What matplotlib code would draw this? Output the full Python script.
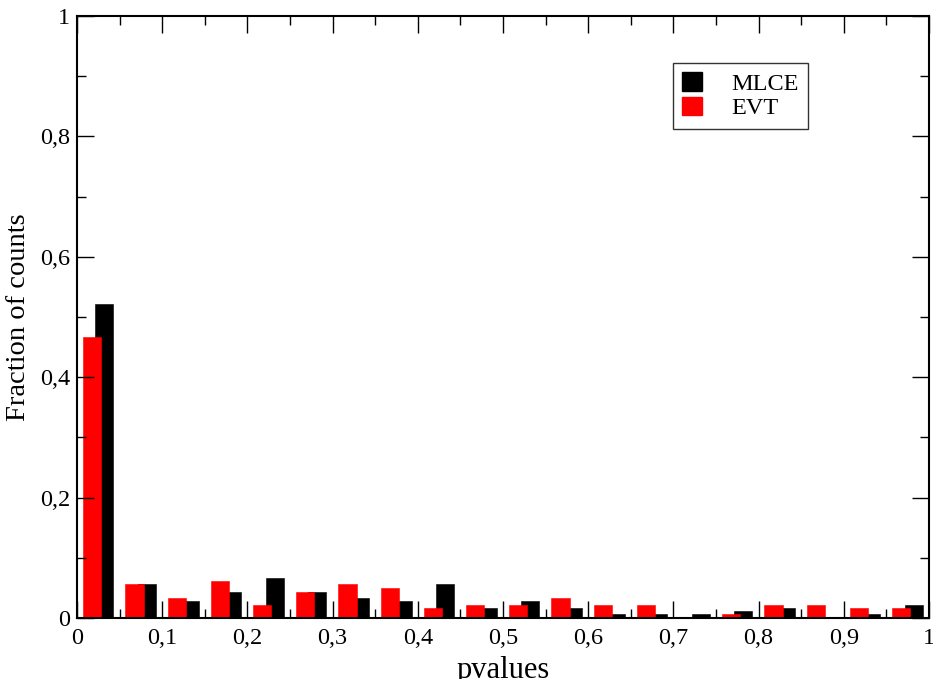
import numpy as np
import matplotlib
matplotlib.use('Agg')
import matplotlib.pyplot as plt
from matplotlib.ticker import MultipleLocator, FuncFormatter
from matplotlib.patches import Patch

# Histogram of p-values, 20 bins of width 0.05
bin_edges = np.linspace(0.0, 1.0, 21)
bin_centers = 0.5 * (bin_edges[:-1] + bin_edges[1:])

evt_frac = [0.467, 0.056, 0.033, 0.061, 0.022, 0.044, 0.056, 0.050, 0.017, 0.022,
            0.022, 0.033, 0.022, 0.022, 0.000, 0.006, 0.022, 0.022, 0.017, 0.017]
mlce_frac = [0.522, 0.056, 0.028, 0.044, 0.067, 0.044, 0.033, 0.028, 0.056, 0.017,
             0.028, 0.017, 0.006, 0.006, 0.006, 0.011, 0.017, 0.000, 0.006, 0.022]

plt.rcParams['font.family'] = ['Liberation Serif', 'DejaVu Serif']

fig = plt.figure(figsize=(9.33, 6.79), dpi=100)
ax = fig.add_axes([0.0825, 0.0898, 0.9132, 0.8866])

bar_w = 0.0214
ax.bar(bin_centers + 0.0070, mlce_frac, width=bar_w, color='black',
       edgecolor='black', linewidth=0.4, zorder=1, label='MLCE')
ax.bar(bin_centers - 0.0075, evt_frac, width=bar_w, color='#ff0000',
       edgecolor='#ff0000', linewidth=0.4, zorder=1.1, label='EVT')

ax.set_xlim(0, 1)
ax.set_ylim(0, 1)

comma = FuncFormatter(lambda v, pos: ('%g' % round(v, 3)).replace('.', ','))
ax.xaxis.set_major_locator(MultipleLocator(0.1))
ax.xaxis.set_minor_locator(MultipleLocator(0.05))
ax.yaxis.set_major_locator(MultipleLocator(0.2))
ax.yaxis.set_minor_locator(MultipleLocator(0.1))
ax.xaxis.set_major_formatter(comma)
ax.yaxis.set_major_formatter(comma)

ax.tick_params(which='both', direction='in', top=True, right=True,
               labelsize=17.5, width=1.0, colors='black')
ax.tick_params(which='major', length=12)
ax.tick_params(which='minor', length=6.5)
ax.tick_params(axis='x', pad=7)
ax.tick_params(axis='y', pad=5)
for sp in ax.spines.values():
    sp.set_linewidth(1.5)

ax.set_xlabel('pvalues', fontsize=22, labelpad=5)
ax.set_ylabel('Fraction of counts', fontsize=20.5, labelpad=6)

handles = [Patch(facecolor='black', edgecolor='black'),
           Patch(facecolor='#ff0000', edgecolor='#ff0000')]
leg = ax.legend(handles, ['MLCE', 'EVT'], loc='upper left',
                bbox_to_anchor=(0.6995, 0.9224), borderaxespad=0,
                fontsize=17.5, frameon=True, fancybox=False,
                handlelength=0.8, handleheight=0.8, handletextpad=1.2,
                labelspacing=0.08, borderpad=0.38)
leg.get_frame().set_edgecolor('black')
leg.get_frame().set_linewidth(1.0)

fig.savefig('out.png', dpi=100)
plt.close(fig)
